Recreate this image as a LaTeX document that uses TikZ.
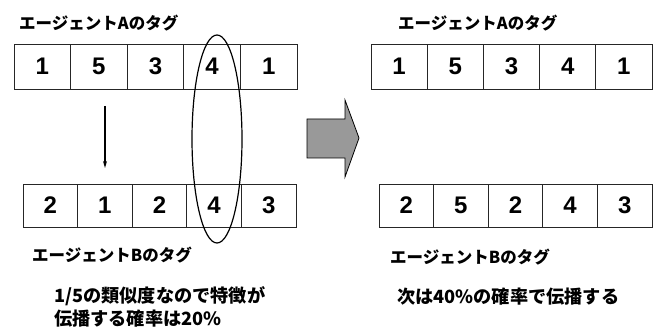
\documentclass[tikz,border=0pt]{standalone}
\usepackage{fontspec}
\setmainfont{Liberation Sans}
\newfontfamily\jp{Noto Sans CJK JP}
\usetikzlibrary{shapes.geometric,arrows.meta}
\begin{document}
\begin{tikzpicture}[x=1pt,y=1pt,
  cell/.style={draw=black!85,line width=0.8pt,inner sep=0pt,minimum height=#1,font=\fontsize{24}{24}\selectfont\bfseries},
  lbl/.style={anchor=west,inner sep=0pt,font=\jp\fontsize{16.5}{16.5}\selectfont\bfseries},
  note/.style={anchor=west,inner sep=0pt,align=left,font=\jp\fontsize{18.2}{23}\selectfont\bfseries}]
\useasboundingbox (0,0) rectangle (657,-329);
% top-left row
\foreach \n [count=\i] in {1,5,3,4,1}
  \node[cell=45pt,minimum width=56.6pt] (tl\i) at ({14+56.6*(\i-0.5)},-66.5) {\n};
% bottom-left row
\foreach \n [count=\i] in {2,1,2,4,3}
  \node[cell=43pt,minimum width=54.6pt] (bl\i) at ({23+54.6*(\i-0.5)},-205.5) {\n};
% top-right row
\foreach \n [count=\i] in {1,5,3,4,1}
  \node[cell=45pt,minimum width=56.2pt] (tr\i) at ({371+56.2*(\i-0.5)},-66.5) {\n};
% bottom-right row
\foreach \n [count=\i] in {2,5,2,4,3}
  \node[cell=43pt,minimum width=54.6pt] (br\i) at ({379+54.6*(\i-0.5)},-205.5) {\n};
% labels
\node[lbl] (la) at (19,-23) {エージェントAのタグ};
\node[lbl] (lb) at (32,-255) {エージェントBのタグ};
\node[lbl] (ra) at (398,-23) {エージェントAのタグ};
\node[lbl] (rb) at (390,-257) {エージェントBのタグ};
\node[note] (n1) at (54,-306.5) {1/5の類似度なので特徴が\\伝播する確率は20\%};
\node[note] (n2) at (397,-297) {次は40\%の確率で伝播する};
% down arrow
\coordinate (s) at (105,-106);
\coordinate (e) at (105,-168);
\draw[line width=1.2pt,-{Stealth[length=7pt,width=4pt]}] (s) -- (e);
% ellipse
\node[draw,line width=1.2pt,ellipse,inner sep=0pt,minimum width=50pt,minimum height=208pt] (el) at (217,-139) {};
% big gray arrow
\draw[line width=0.8pt,fill=black!40]
  (307,-119) -- (345,-119) -- (345,-100) -- (359,-138) -- (345,-177) -- (345,-158) -- (307,-158) -- cycle;
\end{tikzpicture}
\end{document}
